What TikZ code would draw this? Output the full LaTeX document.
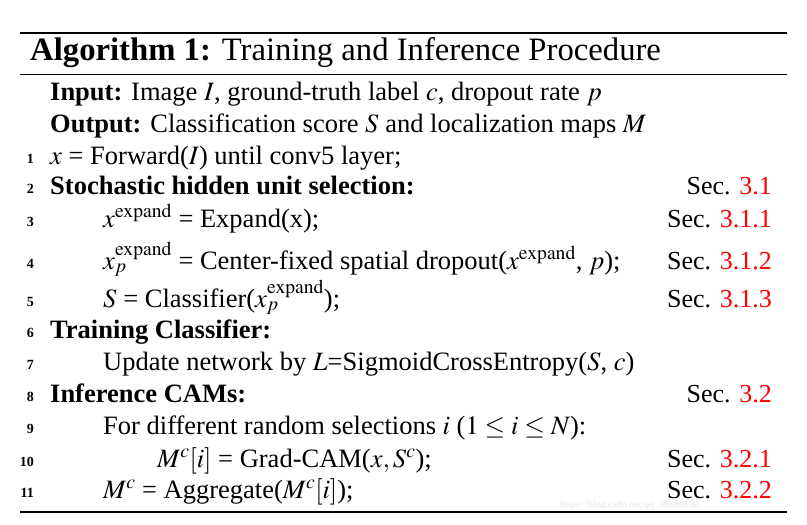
\documentclass[tikz,border=0pt]{standalone}
\usepackage{mathptmx}
\usepackage{fontspec}
\setmainfont{Liberation Serif}
\begin{document}
\begin{tikzpicture}[x=1pt,y=-1pt,
  t/.style={anchor=base west,inner sep=0pt,font=\fontsize{26.5}{28}\selectfont},
  n/.style={anchor=base east,inner sep=0pt,font=\fontsize{14}{16}\selectfont\bfseries},
  s/.style={anchor=base east,inner sep=0pt,font=\fontsize{26}{28}\selectfont}]
\useasboundingbox (0,0) rectangle (807,525);
\draw[line width=1.6pt] (20,33) -- (787,33);
\draw[line width=0.8pt] (20,74) -- (787,74);
\draw[line width=1.6pt] (20,512) -- (787,512);
\node[anchor=base west,inner sep=0pt,font=\fontsize{32.7}{34}\selectfont] (title) at (30,60) {\textbf{Algorithm 1:} Training and Inference Procedure};
\node[t] (in) at (50,100) {\textbf{Input:} Image $I$, ground-truth label $c$, dropout rate $p$};
\node[t] (out) at (50,132) {\textbf{Output:} Classification score $S$ and localization maps $M$};
\foreach \k/\y in {1/163,2/193,3/226,4/268,5/306,6/337,7/369,8/401,9/433,10/466,11/497}
  \node[n] (n\k) at (34,\y) {\k};
\node[t] (l1) at (50,164) {$x$ = Forward($I$) until conv5 layer;};
\node[t] (l2) at (50,194) {\textbf{Stochastic hidden unit selection:}};
\node[t] (l3) at (103,227) {$x^{\mathrm{expand}}$ = Expand(x);};
\node[t] (l4) at (103,269) {$x_p^{\mathrm{expand}}$ = Center-fixed spatial dropout($x^{\mathrm{expand}}$, $p$);};
\node[t] (l5) at (103,307) {$S$ = Classifier($x_p^{\mathrm{expand}}$);};
\node[t] (l6) at (50,338) {\textbf{Training Classifier:}};
\node[t] (l7) at (103,370) {Update network by $L$=SigmoidCrossEntropy($S$, $c$)};
\node[t] (l8) at (50,402) {\textbf{Inference CAMs:}};
\node[t] (l9) at (103,434) {For different random selections $i$ ($1 \leq i \leq N$):};
\node[t] (l10) at (157,467) {$M^c[i]$ = Grad-CAM($x, S^c$);};
\node[t] (l11) at (103,498) {$M^c$ = Aggregate($M^c[i]$);};
\foreach \k/\y/\r in {2/194/3.1,3/227/3.1.1,4/269/3.1.2,5/307/3.1.3,8/402/3.2,10/467/3.2.1,11/498/3.2.2}
  \node[s] (s\k) at (772,\y) {Sec. \textcolor{red}{\r}};
\node[anchor=base west,inner sep=0pt,font=\fontsize{10}{11}\selectfont,text=black!10] (wm) at (560,507) {https://blog.csdn.net/qq\_36686160};
\end{tikzpicture}
\end{document}
